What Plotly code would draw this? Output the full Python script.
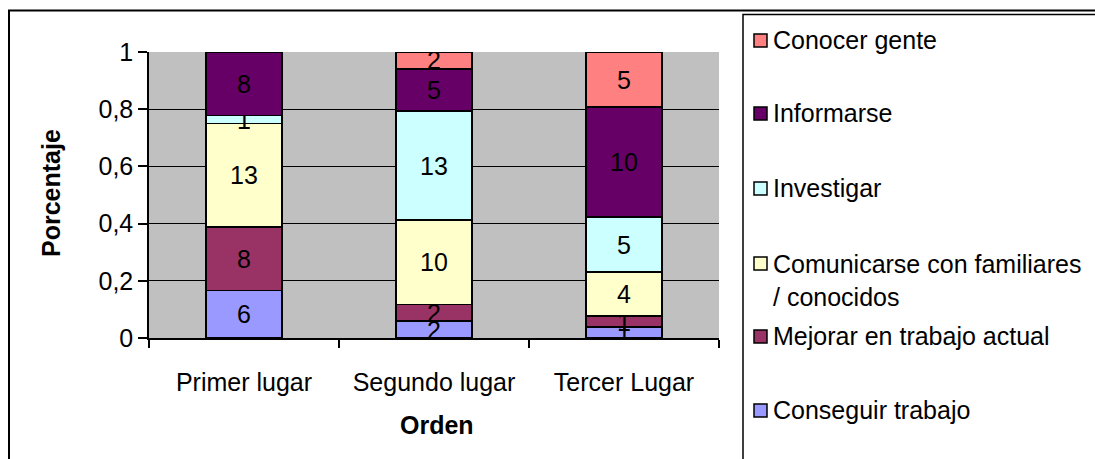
import plotly.graph_objects as go

categories = ["Primer lugar", "Segundo lugar", "Tercer Lugar"]
series_names = ["Conseguir trabajo", "Mejorar en trabajo actual",
                "Comunicarse con familiares / conocidos", "Investigar",
                "Informarse", "Conocer gente"]
conseguir = [6, 2, 1]
mejorar = [8, 2, 1]
comunicarse = [13, 10, 4]
investigar = [1, 13, 5]
informarse = [8, 5, 10]
conocer = [0, 2, 5]
series_values = [conseguir, mejorar, comunicarse, investigar, informarse, conocer]
colors = ["#9999FF", "#993366", "#FFFFCC", "#CCFFFF", "#660066", "#FF8080"]
legend_labels = ["Conseguir trabajo", "Mejorar en trabajo actual",
                 "Comunicarse con familiares<br>/ conocidos", "Investigar",
                 "Informarse", "Conocer gente"]

FONT = "Liberation Sans, Arial, sans-serif"
FS = 25

# plot area in pixels
L, R, T, B = 149, 719, 52, 338
W, H = 1095, 459


def px_x(px):
    return (px - L) / (R - L)


def px_y(py):
    return (B - py) / (B - T)


fig = go.Figure()
for name, vals, col in zip(series_names, series_values, colors):
    fig.add_trace(go.Bar(
        x=categories, y=vals, name=name,
        marker=dict(color=col, line=dict(color="black", width=1.5)),
        text=[str(v) if v else "" for v in vals],
        textposition="inside", insidetextanchor="middle", textangle=0,
        textfont=dict(family=FONT, size=FS, color="black"),
        showlegend=False, hoverinfo="skip",
    ))

fig.update_layout(
    width=W, height=H,
    barmode="stack", barnorm="fraction", bargap=0.6,
    separators=",.",
    paper_bgcolor="white", plot_bgcolor="#C0C0C0",
    margin=dict(l=L, r=W - R, t=T, b=H - B, autoexpand=False),
    font=dict(family=FONT, size=FS, color="black"),
    uniformtext=dict(minsize=FS, mode="show"),
    xaxis=dict(
        showline=True, linecolor="black", linewidth=1.5,
        ticks="outside", tickson="boundaries", ticklen=8, tickcolor="black",
        tickwidth=1.5, ticklabelstandoff=21, showgrid=False,
        tickfont=dict(family=FONT, size=FS),
    ),
    yaxis=dict(
        range=[0, 1], dtick=0.2, tick0=0,
        showline=True, linecolor="black", linewidth=1.5,
        ticks="outside", ticklen=9, tickcolor="black", tickwidth=1.5,
        showgrid=True, gridcolor="black", gridwidth=1, zeroline=False,
        tickfont=dict(family=FONT, size=FS),
    ),
)

annotations = [
    dict(text="<b>Orden</b>", x=px_x(437), y=px_y(425), xref="paper", yref="paper",
         showarrow=False, xanchor="center", yanchor="middle",
         font=dict(family=FONT, size=FS)),
    dict(text="<b>Porcentaje</b>", x=px_x(51), y=px_y(193), xref="paper", yref="paper",
         showarrow=False, xanchor="center", yanchor="middle", textangle=-90,
         font=dict(family=FONT, size=FS)),
]

shapes = [
    dict(type="rect", xref="paper", yref="paper",
         x0=px_x(9), x1=px_x(1100), y0=px_y(470), y1=px_y(10.5),
         line=dict(color="black", width=2), fillcolor="rgba(0,0,0,0)", layer="above"),
    dict(type="rect", xref="paper", yref="paper",
         x0=px_x(743), x1=px_x(1100), y0=px_y(470), y1=px_y(14.5),
         line=dict(color="black", width=1.5), fillcolor="white", layer="above"),
]

legend_y = [410, 336, 263, 188, 113, 40]
for lab, col, yc in zip(legend_labels, colors, legend_y):
    shapes.append(dict(type="rect", xref="paper", yref="paper",
                       x0=px_x(754), x1=px_x(767), y0=px_y(yc + 7), y1=px_y(yc - 6),
                       line=dict(color="black", width=1.5), fillcolor=col, layer="above"))
    if "<br>" in lab:
        annotations.append(dict(text=lab, x=px_x(771), y=px_y(yc - 15), xref="paper", yref="paper",
                                showarrow=False, xanchor="left", yanchor="top", align="left",
                                font=dict(family=FONT, size=FS)))
    else:
        annotations.append(dict(text=lab, x=px_x(771), y=px_y(yc), xref="paper", yref="paper",
                                showarrow=False, xanchor="left", yanchor="middle", align="left",
                                font=dict(family=FONT, size=FS)))

fig.update_layout(annotations=annotations, shapes=shapes)
fig.write_html("out.html", config={"displayModeBar": False},
               post_script="document.body.style.margin='0px';document.body.style.overflow='hidden';")
